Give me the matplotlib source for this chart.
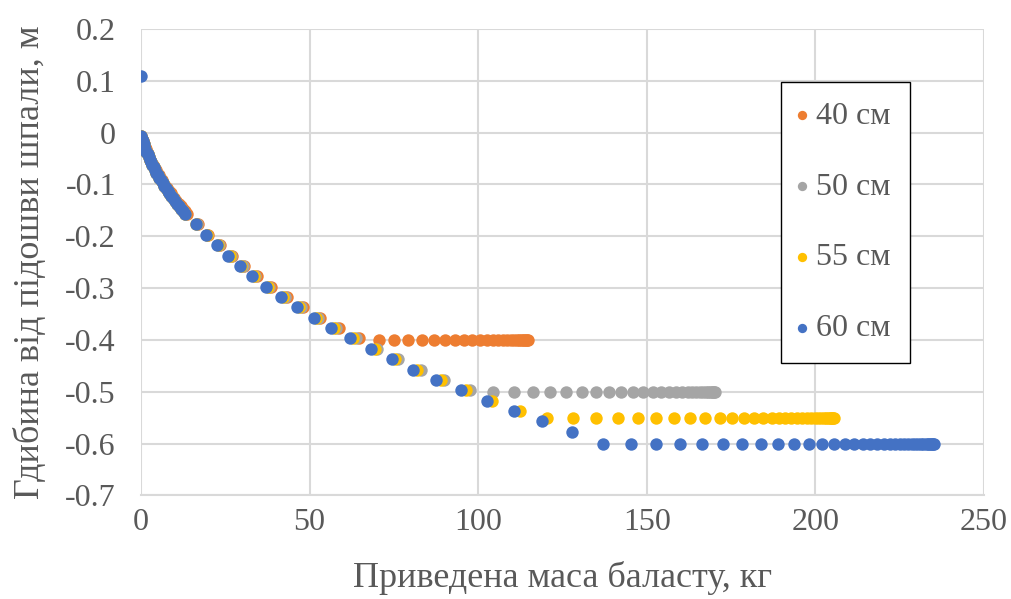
import matplotlib
matplotlib.use("Agg")
import matplotlib.pyplot as plt

plt.rcParams['font.family'] = ['Liberation Serif', 'DejaVu Serif']
plt.rcParams['axes.unicode_minus'] = False

# ---- дані ----
# щільна частина (спільна глибина для всіх серій)
y_dense = [-0.007, -0.012, -0.017, -0.022, -0.027, -0.032, -0.037, -0.042, -0.047, -0.052,
           -0.057, -0.062, -0.067, -0.072, -0.077, -0.082, -0.087, -0.092, -0.097, -0.102,
           -0.107, -0.112, -0.117, -0.122, -0.127, -0.132, -0.137, -0.142, -0.147, -0.152,
           -0.157]
x_dense = [0.0, 0.24, 0.49, 0.75, 1.03, 1.33, 1.63, 1.95, 2.29, 2.64,
           3.00, 3.38, 3.77, 4.17, 4.59, 5.02, 5.47, 5.93, 6.41, 6.89,
           7.40, 7.91, 8.44, 8.99, 9.55, 10.12, 10.71, 11.31, 11.92, 12.55,
           13.19]
x_dense_40 = [0.0, 0.25, 0.51, 0.78, 1.07, 1.38, 1.70, 2.03, 2.38, 2.75,
              3.12, 3.52, 3.92, 4.34, 4.77, 5.22, 5.69, 6.17, 6.67, 7.17,
              7.70, 8.23, 8.78, 9.35, 9.93, 10.52, 11.14, 11.76, 12.40, 13.05,
              13.72]

# рідша частина, крок 0.02 м
y_steps = [-0.177, -0.197, -0.217, -0.237, -0.257, -0.277, -0.297, -0.317, -0.337, -0.357,
           -0.377, -0.397, -0.417, -0.437, -0.457, -0.477, -0.497, -0.517, -0.537, -0.557,
           -0.577]
x_steps_40 = [16.8, 20.0, 23.3, 26.9, 30.6, 34.3, 38.6, 43.3, 48.0, 53.2, 58.7, 64.6]
x_steps_50 = [16.6, 19.7, 23.0, 26.6, 30.2, 33.9, 38.1, 42.7, 47.4, 52.5, 57.9, 63.7,
              70.1, 76.2, 82.9, 89.9, 97.5]
x_steps_55 = [16.4, 19.5, 22.7, 26.3, 29.8, 33.5, 37.7, 42.2, 46.9, 52.0, 57.2, 63.0,
              69.3, 75.4, 82.0, 88.9, 96.4, 104.0, 112.3]
x_steps_60 = [16.2, 19.2, 22.4, 25.9, 29.4, 33.0, 37.1, 41.6, 46.2, 51.2, 56.4, 62.1,
              68.3, 74.3, 80.8, 87.6, 95.0, 102.5, 110.6, 118.9, 127.7]

# горизонтальні ділянки
depth_40, depth_50, depth_55, depth_60 = -0.40, -0.50, -0.55, -0.60
x_flat_40 = [70.5, 75.0, 79.2, 83.2, 86.8, 90.1, 93.2, 95.9, 98.2, 100.5, 102.5, 104.3,
             105.9, 107.3, 108.5, 109.6, 110.6, 111.4, 112.1, 112.7, 113.2, 113.7, 114.1,
             114.4, 114.7]
x_flat_50 = [104.4, 110.6, 116.2, 121.4, 126.1, 130.7, 134.9, 138.8, 142.5, 145.8, 148.9,
             151.7, 154.3, 156.6, 158.7, 160.5, 162.1, 163.5, 164.7, 165.8, 166.7, 167.5,
             168.2, 168.8, 169.3, 169.7, 170.0, 170.2]
x_flat_55 = [120.5, 128.0, 135.0, 141.4, 147.3, 152.8, 158.0, 162.8, 167.4, 171.6, 175.4,
             178.7, 181.8, 184.5, 187.0, 189.1, 191.1, 192.9, 194.6, 196.1, 197.5, 198.7,
             199.8, 200.8, 201.7, 202.5, 203.2, 203.8, 204.3, 204.7, 205.0, 205.3, 205.5]
x_flat_60 = [136.9, 145.4, 152.6, 159.8, 166.3, 172.5, 178.3, 183.8, 188.9, 193.6, 198.1,
             202.0, 205.5, 208.7, 211.5, 214.0, 216.3, 218.4, 220.3, 222.0, 223.6, 225.0,
             226.3, 227.5, 228.6, 229.6, 230.5, 231.3, 232.0, 232.7, 233.3, 233.8, 234.3,
             234.7, 235.0, 235.2]

# окрема точка на початку серії 60 см
x_start_60, y_start_60 = 0.0, 0.11

labels = ["40 см", "50 см", "55 см", "60 см"]
colors = ["#ED7D31", "#A5A5A5", "#FFC000", "#4472C4"]

x_ticks = [0, 50, 100, 150, 200, 250]
y_ticks = [0.2, 0.1, 0, -0.1, -0.2, -0.3, -0.4, -0.5, -0.6, -0.7]
y_tick_labels = ["0.2", "0.1", "0", "-0.1", "-0.2", "-0.3", "-0.4", "-0.5", "-0.6", "-0.7"]


def series(x_d, x_s, x_f, depth, start=None):
    xs = list(x_d) + list(x_s) + list(x_f)
    ys = list(y_dense) + y_steps[:len(x_s)] + [depth] * len(x_f)
    if start is not None:
        xs = [start[0]] + xs
        ys = [start[1]] + ys
    return xs, ys


data = [
    series(x_dense_40, x_steps_40, x_flat_40, depth_40),
    series(x_dense, x_steps_50, x_flat_50, depth_50),
    series(x_dense, x_steps_55, x_flat_55, depth_55),
    series(x_dense, x_steps_60, x_flat_60, depth_60, (x_start_60, y_start_60)),
]

fig = plt.figure(figsize=(10.12, 5.99), dpi=100)
ax = fig.add_axes([0.1393, 0.1728, 0.8330, 0.7788])

for (xs, ys), lab, col in zip(data, labels, colors):
    ax.scatter(xs, ys, s=80, color=col, label=lab, linewidths=0, zorder=3)

ax.set_xlim(0, 250)
ax.set_ylim(-0.7, 0.2)
ax.set_xticks(x_ticks)
ax.set_yticks(y_ticks)
ax.set_yticklabels(y_tick_labels)
ax.grid(True, color="#D9D9D9", linewidth=1.5, zorder=0)
ax.set_axisbelow(True)
for side in ["top", "right", "left"]:
    ax.spines[side].set_visible(False)
ax.spines["bottom"].set_color("#D9D9D9")
ax.spines["bottom"].set_linewidth(1.5)
ax.tick_params(length=0, labelsize=23, colors="#595959")
ax.tick_params(axis="y", pad=18)
ax.tick_params(axis="x", pad=9)

ax.set_xlabel("Приведена маса баласту, кг", fontsize=26, color="#595959", labelpad=17)
ax.set_ylabel("Гдибина від підошви шпали, м", fontsize=26, color="#595959", labelpad=13)

leg = ax.legend(loc="upper left", bbox_to_anchor=(0.759, 0.886), fontsize=23,
                labelspacing=1.3, borderpad=0.6, handletextpad=0.35, handlelength=0.15,
                markerscale=0.75, fancybox=False, framealpha=1, edgecolor="black",
                borderaxespad=0)
leg.get_frame().set_linewidth(1.0)
for t in leg.get_texts():
    t.set_color("#595959")

fig.savefig("out.png", dpi=100)
